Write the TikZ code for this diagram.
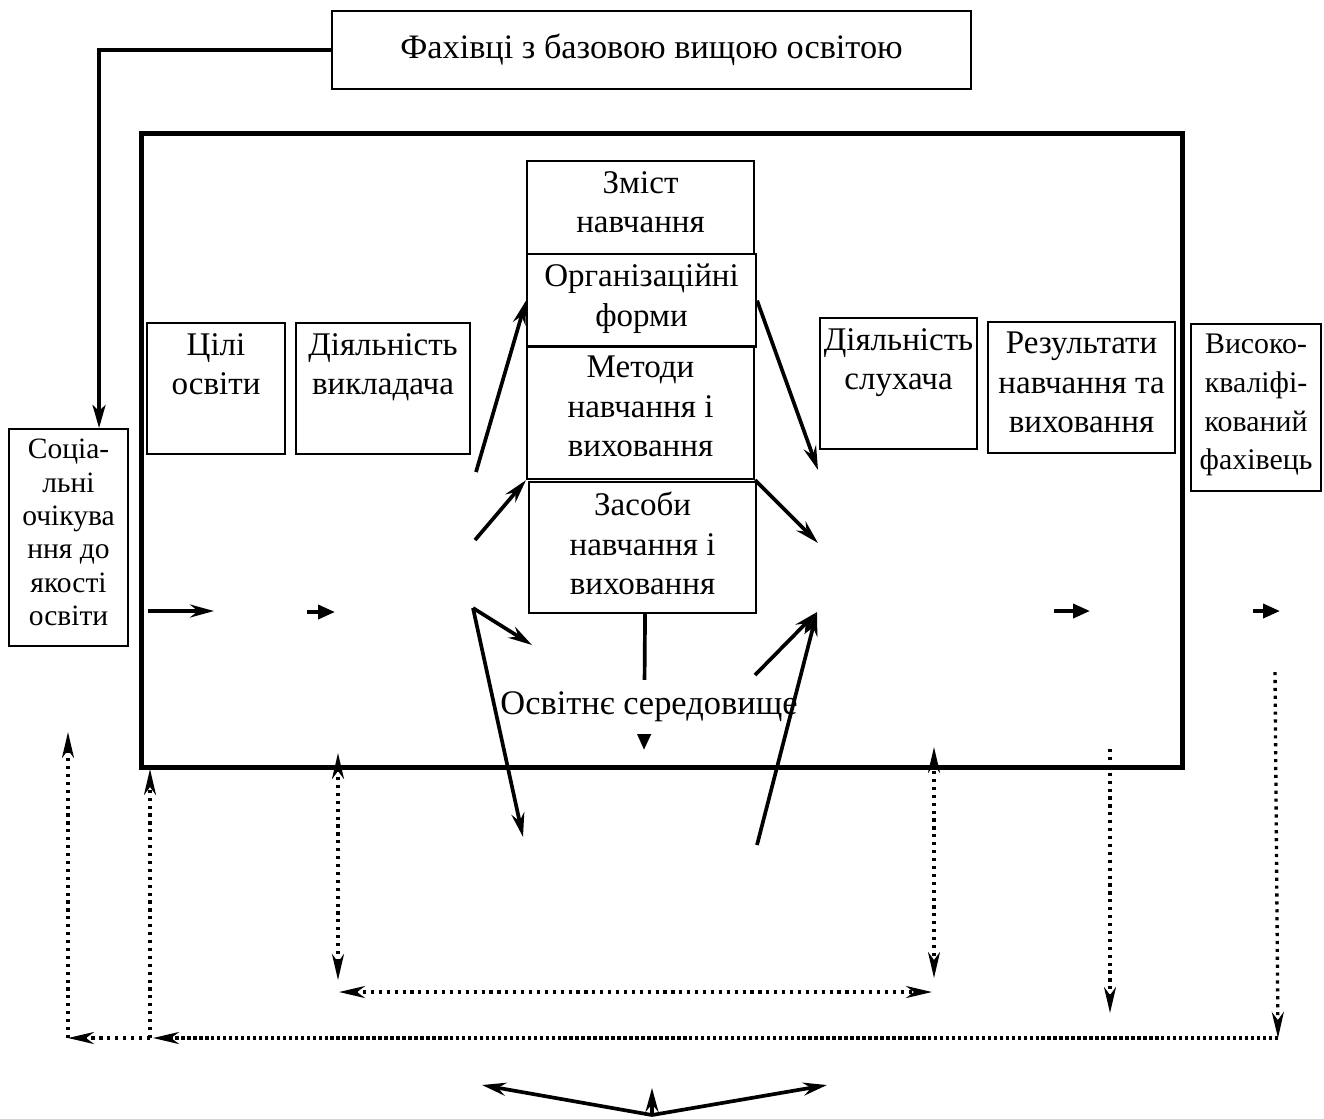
\documentclass[tikz,border=0pt]{standalone}
\usepackage{fontspec}
\setmainfont{Liberation Serif}
\usetikzlibrary{arrows.meta,positioning}

\begin{document}
\begin{tikzpicture}[x=0.1mm,y=-0.1mm,
    box/.style={draw,line width=0.6pt,anchor=north west,inner sep=0pt},
    txt/.style={anchor=north,align=center,inner sep=3pt,font=\fontsize{9.4}{11.2}\selectfont},
    arr/.style={line width=1.05pt,-{Stealth[length=2.4mm,width=1.3mm,inset=0.8mm]}},
    tri/.style={line width=1.05pt,-{Triangle[length=1.7mm,width=1.4mm]}},
    dots/.style={line width=0.95pt,dash pattern=on 0.9pt off 1.35pt,-{Stealth[length=2.6mm,width=1.2mm,inset=0.8mm]}},
    dotsb/.style={dots,{Stealth[length=2.6mm,width=1.2mm,inset=0.8mm]}-{Stealth[length=2.6mm,width=1.2mm,inset=0.8mm]}}]
    \useasboundingbox (0,0) rectangle (1324,1118);

    \node[box,minimum width=63.9mm,minimum height=7.8mm,font=\fontsize{9.75}{11}\selectfont] (spec) at (331,10) {Фахівці з базовою вищою освітою};
    \node[box,line width=1.5pt,minimum width=104.1mm,minimum height=63.4mm] (system) at (139,131) {};

    \node[box,minimum width=11.9mm,minimum height=21.7mm] (social) at (8,428) {};
    \node[txt,font=\fontsize{8.4}{9.5}\selectfont] at (social.north) {Соціа-\\льні\\очікува\\ння до\\якості\\освіти};
    \node[box,minimum width=13.8mm,minimum height=13.1mm] (goals) at (146,322) {};
    \node[txt] at (goals.north) {Цілі\\освіти};
    \node[box,minimum width=17.4mm,minimum height=13.1mm] (teacher) at (295,322) {};
    \node[txt] at (teacher.north) {Діяльність\\викладача};
    \node[box,minimum width=22.7mm,minimum height=9.3mm] (content) at (526,160) {};
    \node[txt] at (content.north) {Зміст\\навчання};
    \node[box,minimum width=22.9mm,minimum height=9.3mm] (forms) at (526,253) {};
    \node[txt] at (forms.north) {Організаційні\\форми};
    \node[box,minimum width=22.7mm,minimum height=13.3mm] (methods) at (526,345) {};
    \node[txt] at (methods.north) {Методи\\навчання і\\виховання};
    \node[box,minimum width=22.7mm,minimum height=13.1mm] (means) at (528,481) {};
    \node[txt] at (means.north) {Засоби\\навчання і\\виховання};
    \node[box,minimum width=15.7mm,minimum height=13.1mm] (listener) at (819,317) {};
    \node[txt] at (listener.north) {Діяльність\\слухача};
    \node[box,minimum width=18.7mm,minimum height=13.1mm] (results) at (987,321) {};
    \node[txt] at (results.north) {Результати\\навчання та\\виховання};
    \node[box,minimum width=13mm,minimum height=16.7mm] (expert) at (1190,323) {};
    \node[txt,font=\fontsize{8.5}{11}\selectfont] at (expert.north) {Високо-\\кваліфі-\\кований\\фахівець};

    \draw[line width=1pt,-{Stealth[length=2.3mm,width=1.3mm,inset=0.6mm]}] (spec.west) -| ([xshift=3.05mm]social.north);

    % environment
    \draw[tri] ([xshift=0.25mm]means.south) -- (644,750);
    \node[fill=white,minimum height=5.2mm,inner xsep=1pt,font=\fontsize{9.8}{11}\selectfont] (env) at (649,707) {Освітнє середовище};

    % arrows along the system
    \draw[arr] (148,611) -- (214,611);
    \draw[tri] (307,612) -- (335,612);
    \draw[tri] (1054,611) -- (1090,611);
    \draw[tri] (1253,611) -- (1280,611);

    % left fan
    \coordinate (hubL) at (473,608);
    \draw[arr] (476,472) -- (forms.west);
    \draw[arr] (475,540) -- (methods.south west);
    \draw[arr] (hubL) -- ++(59,37);
    \draw[arr] (hubL) -- ++(50,229);
    % right fan
    \coordinate (hubR) at (817,612);
    \draw[arr] (forms.east) -- (818,470);
    \draw[arr] (methods.south east) -- (818,543);
    \draw[arr] (755,675) -- (hubR);
    \draw[arr] (757,845) -- (hubR);

    % feedback
    \coordinate (fbR) at (1278,1038);
    \coordinate (fbL) at (68,1038);
    \draw[dots] (1275,672) -- (fbR);
    \draw[dots,dash pattern=on 1pt off 0.7pt] (fbR) -- (153,1038);
    \draw[dots] (150,1038) -- (fbL);
    \draw[dots] (fbL) -- (68,732);
    \draw[dots] (150,1038) -- (150,769);
    \draw[dots] (1110,749) -- (1110,1013);
    \draw[dotsb] (338,753) -- (338,980);
    \draw[dotsb] (339,992) -- (932,992);
    \draw[dotsb] (934,747) -- (934,978);

    \coordinate (hubB) at (652,1115);
    \draw[arr] (hubB) -- (482,1085);
    \draw[arr] (hubB) -- (827,1085);
    \draw[arr] (hubB) -- (652,1088);
\end{tikzpicture}
\end{document}
